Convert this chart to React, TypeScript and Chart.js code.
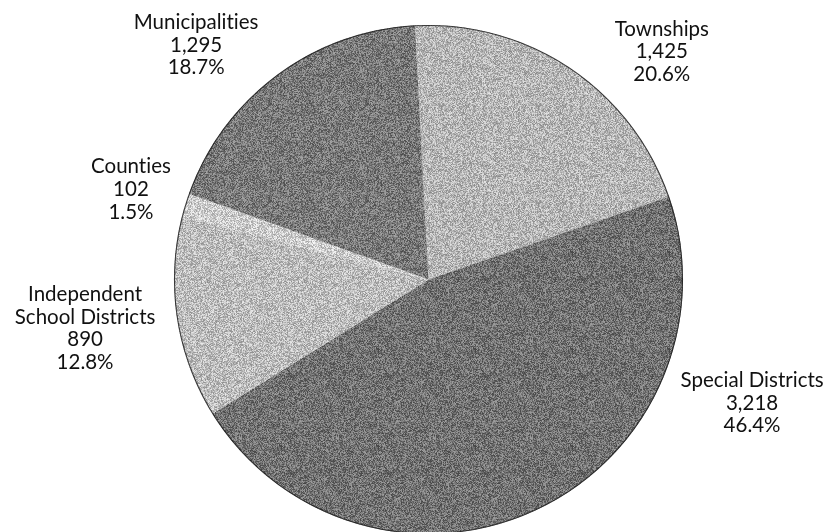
import React, { useEffect, useRef } from "react";
import { Chart, registerables } from "chart.js";

Chart.register(...registerables);

// ---- data ----
const categories = [
  "Townships",
  "Special Districts",
  "Independent School Districts",
  "Counties",
  "Municipalities",
];
const labelLines = [
  ["Townships"],
  ["Special Districts"],
  ["Independent", "School Districts"],
  ["Counties"],
  ["Municipalities"],
];
const counts = [1425, 3218, 890, 102, 1295];

// ---- styling (not data) ----
const shades = [182, 114, 188, 204, 120];
const labelAngleDeg = [45.7, 110.9, -98.1, -73.1, -44.75];
const labelDistFactor = [1.281, 1.361, 1.363, 1.222, 1.297];
const FONT_PX = 20.5;
const LINE_H = 22.8;

function makeNoisePattern(base: number, amp: number, seed: number): CanvasPattern | string {
  const c = document.createElement("canvas");
  const size = 97;
  c.width = size;
  c.height = size;
  const ctx = c.getContext("2d");
  if (!ctx) return `rgb(${base},${base},${base})`;
  const img = ctx.createImageData(size, size);
  let s = seed >>> 0;
  for (let i = 0; i < size * size; i++) {
    s = (Math.imul(s, 1664525) + 1013904223) >>> 0;
    const r = s / 4294967296;
    let v = Math.round(base + (r - 0.5) * 2 * amp);
    v = Math.max(0, Math.min(255, v));
    img.data[i * 4] = v;
    img.data[i * 4 + 1] = v;
    img.data[i * 4 + 2] = v;
    img.data[i * 4 + 3] = 255;
  }
  ctx.putImageData(img, 0, 0);
  const p = ctx.createPattern(c, "repeat");
  return p || `rgb(${base},${base},${base})`;
}

const labelPlugin = {
  id: "outsideLabels",
  afterDatasetsDraw(chart: any) {
    const ctx = chart.ctx as CanvasRenderingContext2D;
    const meta = chart.getDatasetMeta(0);
    const data = chart.data.datasets[0].data as number[];
    const total = data.reduce((a, b) => a + b, 0);
    if (!meta.data.length) return;
    const first = meta.data[0] as any;
    // outer rim
    ctx.save();
    ctx.beginPath();
    ctx.arc(first.x, first.y, first.outerRadius - 0.5, 0, Math.PI * 2);
    ctx.strokeStyle = "rgba(25,25,25,0.8)";
    ctx.lineWidth = 1.1;
    ctx.stroke();
    ctx.restore();

    ctx.save();
    ctx.font = `${FONT_PX}px Lato, "Open Sans", sans-serif`;
    try {
      (ctx as any).textRendering = "optimizeSpeed";
    } catch (e) {}
    ctx.fillStyle = "#111";
    ctx.textAlign = "center";
    ctx.textBaseline = "middle";
    meta.data.forEach((arc: any, i: number) => {
      const th = (labelAngleDeg[i] * Math.PI) / 180;
      const r = labelDistFactor[i] * arc.outerRadius;
      const cx = arc.x + r * Math.sin(th);
      const cy = arc.y - r * Math.cos(th);
      const lines = [
        ...labelLines[i],
        data[i].toLocaleString("en-US"),
        ((data[i] / total) * 100).toFixed(1) + "%",
      ];
      const startY = cy - ((lines.length - 1) * LINE_H) / 2;
      lines.forEach((t, k) =>
        ctx.fillText(t.replace(/t(?=i)/g, "t\u200C"), cx, startY + k * LINE_H)
      );
    });
    ctx.restore();
  },
};

export default function App() {
  const ref = useRef<HTMLCanvasElement | null>(null);
  useEffect(() => {
    if (!ref.current) return;
    const colors = shades.map((b, i) => makeNoisePattern(b, 45, 12345 + i * 7919));
    const chart = new Chart(ref.current, {
      type: "pie",
      data: {
        labels: categories,
        datasets: [
          {
            data: counts,
            backgroundColor: colors as any,
            borderWidth: 0,
            hoverOffset: 0,
            offset: 0,
          },
        ],
      },
      options: {
        animation: false,
        responsive: true,
        maintainAspectRatio: false,
        rotation: -3.05,
        layout: { padding: { left: 174, right: 145, top: 25, bottom: 6 } },
        plugins: {
          legend: { display: false },
          tooltip: { enabled: false },
        },
      },
      plugins: [labelPlugin],
    });
    return () => chart.destroy();
  }, []);

  return (
    <div
      style={{
        position: "fixed",
        left: 0,
        top: 0,
        width: 828,
        height: 532,
        overflow: "hidden",
        background: "#fff",
      }}
    >
      <div style={{ position: "relative", width: 828, height: 540 }}>
        <canvas ref={ref} />
      </div>
    </div>
  );
}
